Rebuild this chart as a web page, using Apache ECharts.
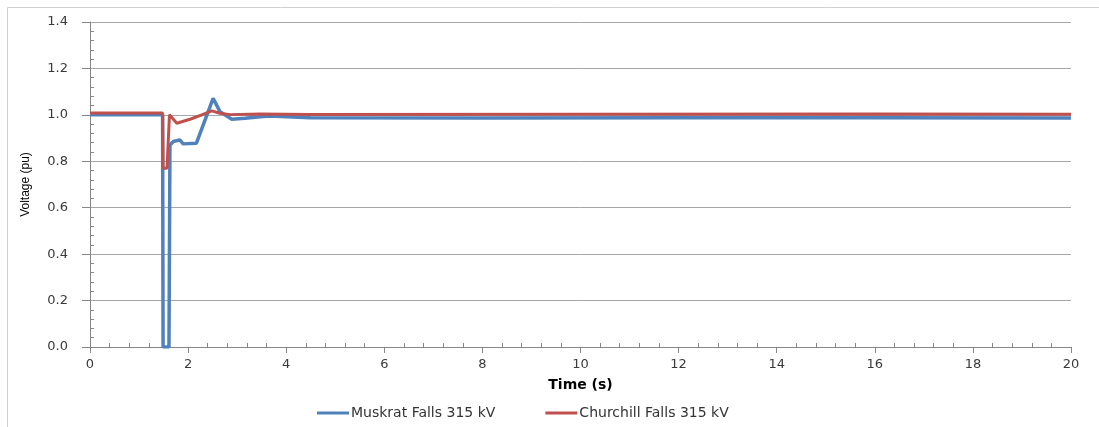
<!DOCTYPE html>
<html>
<head>
<meta charset="utf-8">
<script src="https://cdn.jsdelivr.net/npm/echarts@6/dist/echarts.min.js"></script>
<style>
  html, body { margin: 0; padding: 0; background: #fff; }
  #chart { width: 1099px; height: 427px; }
</style>
</head>
<body>
<div id="chart"></div>
<script>
// Muskrat Falls 315 kV (time s, voltage pu)
var muskratTime = [0, 1.48, 1.49, 1.61, 1.63, 1.70, 1.83, 1.90, 2.17, 2.51, 2.65, 2.89, 3.16, 3.47, 3.67, 4.49, 8, 12, 16, 20]
var muskratVolt = [1.0, 1.0, 0.0, 0.0, 0.870, 0.885, 0.892, 0.875, 0.878, 1.071, 1.014, 0.981, 0.985, 0.992, 0.995, 0.988, 0.987, 0.988, 0.988, 0.987]
// Churchill Falls 315 kV
var churchillTime = [0, 1.48, 1.49, 1.57, 1.62, 1.77, 2.04, 2.28, 2.48, 2.65, 2.85, 3.47, 4.5, 10, 16, 20]
var churchillVolt = [1.008, 1.008, 0.77, 0.77, 1.0, 0.964, 0.981, 1.0, 1.017, 1.007, 1.001, 1.004, 1.002, 1.003, 1.004, 1.003]

var xTicks = { min: 0, max: 20, interval: 2 }
var yTicks = { min: 0, max: 1.4, interval: 0.2 }

function pairs(ts, vs) {
    var out = []
    for (var i = 0; i < ts.length; i++) out.push([ts[i], vs[i]])
    return out
}

var myChart = echarts.init(document.getElementById('chart'), null, { renderer: 'canvas' })
var labelFont = { fontFamily: 'DejaVu Sans', fontSize: 13, color: '#3a3a3a' }
var option = {
    animation: false,
    graphic: [{
        type: 'rect',
        shape: { x: 7.5, y: 7.5, width: 1100, height: 430 },
        style: { fill: 'none', stroke: '#d0d0d0', lineWidth: 1 },
    }],
    grid: { left: 90, right: 28, top: 22, bottom: 80 },
    xAxis: {
        type: 'value',
        min: xTicks.min, max: xTicks.max, interval: xTicks.interval,
        name: 'Time (s)',
        nameLocation: 'middle',
        nameGap: 31,
        nameTextStyle: { fontFamily: 'DejaVu Sans', fontSize: 14, fontWeight: 'bold', color: '#000' },
        axisLine: { show: true, lineStyle: { color: '#868686', width: 1 } },
        axisTick: { show: true, inside: false, length: 6, lineStyle: { color: '#868686' } },
        minorTick: { show: true, splitNumber: 5, length: -4, lineStyle: { color: '#868686' } },
        axisLabel: Object.assign({ margin: 11 }, labelFont),
        splitLine: { show: false },
    },
    yAxis: {
        type: 'value',
        min: yTicks.min, max: yTicks.max, interval: yTicks.interval,
        name: 'Voltage (pu)',
        nameLocation: 'middle',
        nameGap: 58,
        nameTextStyle: { fontFamily: 'Liberation Sans', fontSize: 12, color: '#000' },
        axisLine: { show: true, lineStyle: { color: '#868686', width: 1 } },
        axisTick: { show: true, inside: false, length: 8, lineStyle: { color: '#868686' } },
        minorTick: { show: true, splitNumber: 5, length: -4, lineStyle: { color: '#868686' } },
        axisLabel: Object.assign({ margin: 22, formatter: function (v) { return v.toFixed(1) } }, labelFont),
        splitLine: { show: true, lineStyle: { color: '#a6a6a6', width: 1 } },
    },
    legend: {
        top: 401,
        left: 312,
        itemWidth: 32,
        itemHeight: 3,
        itemGap: 50,
        textStyle: { fontFamily: 'DejaVu Sans', fontSize: 14, color: '#333', padding: [0, 0, 0, -3] },
        data: [
            { name: 'Muskrat Falls 315 kV', icon: 'rect' },
            { name: 'Churchill Falls 315 kV', icon: 'rect' },
        ],
    },
    series: [
        {
            name: 'Muskrat Falls 315 kV',
            type: 'line',
            showSymbol: false,
            symbol: 'none',
            color: '#4f81bd',
            lineStyle: { width: 3.5, color: '#4f81bd' },
            data: pairs(muskratTime, muskratVolt),
        },
        {
            name: 'Churchill Falls 315 kV',
            type: 'line',
            showSymbol: false,
            symbol: 'none',
            color: '#c0504d',
            lineStyle: { width: 3, color: '#c0504d' },
            data: pairs(churchillTime, churchillVolt),
        },
    ],
}
myChart.setOption(option)
</script>
</body>
</html>
